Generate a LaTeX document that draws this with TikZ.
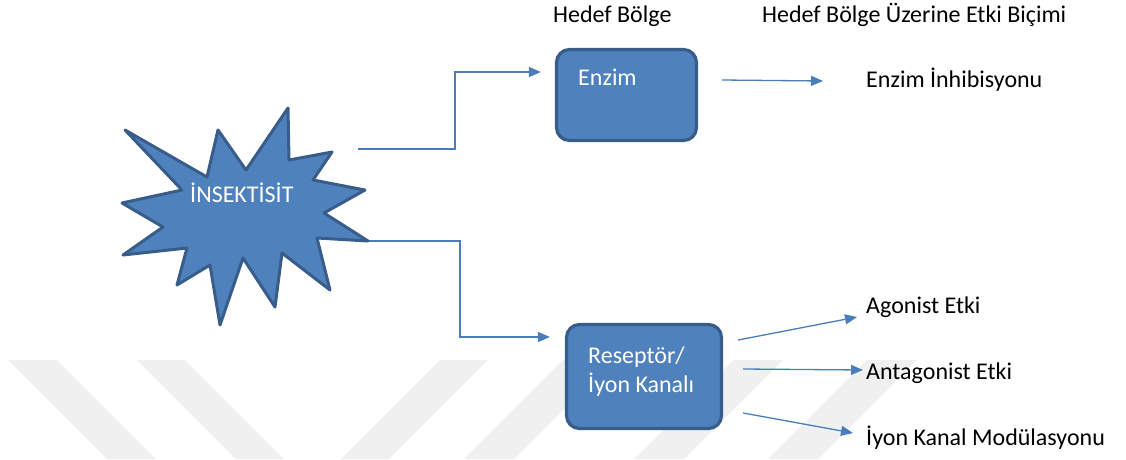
\documentclass[tikz,border=0pt]{standalone}
\usepackage{fontspec}
\setmainfont{Carlito}
\usetikzlibrary{arrows.meta,positioning}

\definecolor{ofisMavi}{HTML}{4F81BD}
\definecolor{ofisKenar}{HTML}{385D8A}
\definecolor{okMavi}{HTML}{4A7EBB}
\definecolor{filigran}{HTML}{F0F0F0}

\begin{document}
\begin{tikzpicture}[x=1pt,y=-1pt,
		kutu/.style={draw=ofisKenar, fill=ofisMavi, line width=3.2pt, rounded corners=13pt, inner sep=0pt},
		yazi/.style={anchor=base west, inner sep=0pt, font=\fontsize{24}{29}\selectfont},
		ok/.style={draw=okMavi, line width=1.3pt, -{Triangle[length=12pt,width=10pt]}}]
			\useasboundingbox (0,0) rectangle (1126,459);

			% filigran
			\fill[filigran] (8,360) -- (57,360) -- (156,459) -- (107,459) -- cycle;
			\fill[filigran] (137,360) -- (185,360) -- (284,459) -- (236,459) -- cycle;
			\fill[filigran] (440,360) -- (488,360) -- (389,459) -- (341,459) -- cycle;
			\fill[filigran] (563,360) -- (613,360) -- (514,459) -- (464,459) -- cycle;
			\fill[filigran] (733,360) -- (783,360) -- (684,459) -- (634,459) -- cycle;
			\fill[filigran] (867,360) -- (917,360) -- (818,459) -- (768,459) -- cycle;

			% insektisit
			\draw[ofisKenar, fill=ofisMavi, line width=3pt, line join=round]
				(125,130) -- (207,177) -- (218,130) -- (246,170) -- (288,108) -- (289,160)
				-- (332,152) -- (313,180) -- (365,190) -- (324,213) -- (368,241) -- (317,238)
				-- (330,290) -- (282,253) -- (275,307) -- (243,258) -- (220,325) -- (210,265)
				-- (177,285) -- (187,248) -- (123,255) -- (163,227) -- (122,203) -- (182,190) -- cycle;
			\node[yazi, white] (ins) at (190,202) {İNSEKTİSİT};
			\coordinate (ins-a) at (358,149);
			\coordinate (ins-b) at (369,241);

			\node[yazi] (bolge) at (553,22) {Hedef Bölge};
			\node[yazi] (bicim) at (762,22) {Hedef Bölge Üzerine Etki Biçimi};

			\node[kutu, minimum width=140, minimum height=91] (enzim) at (626.5,95) {};
			\node[yazi, white] (enzimyazi) at (578,85) {Enzim};
			\node[kutu, minimum width=155, minimum height=104] (res) at (644,376.5) {};
			% taban son satirda
			\node[yazi, white, align=left] (resyazi) at (588,392) {Reseptör/\\İyon Kanalı};

			\node[yazi] (inh) at (866,87) {Enzim İnhibisyonu};
			\node[yazi] (ago) at (866,313) {Agonist Etki};
			\node[yazi] (anta) at (866,379) {Antagonist Etki};
			\node[yazi] (mod) at (866,445) {İyon Kanal Modülasyonu};

			\draw[ok] (ins-a) -- (455,149) |- ([xshift=-14pt,yshift=23pt]enzim.west);
			\draw[ok] (ins-b) -- (460,241) |- ([xshift=-15pt,yshift=39.5pt]res.west);

			\draw[ok] ([xshift=24pt,yshift=15pt]enzim.east) -- ([xshift=-43pt,yshift=6pt]inh.base west);
			\draw[ok] ([xshift=15pt,yshift=36.5pt]res.east) -- ([xshift=-9pt,yshift=-4pt]ago.base west);
			\draw[ok] ([xshift=20pt,yshift=7.5pt]res.east) -- ([xshift=-3pt,yshift=9pt]anta.base west);
			\draw[ok] ([xshift=20pt,yshift=-36.5pt]res.east) -- ([xshift=-13pt,yshift=12pt]mod.base west);
		\end{tikzpicture}
\end{document}
